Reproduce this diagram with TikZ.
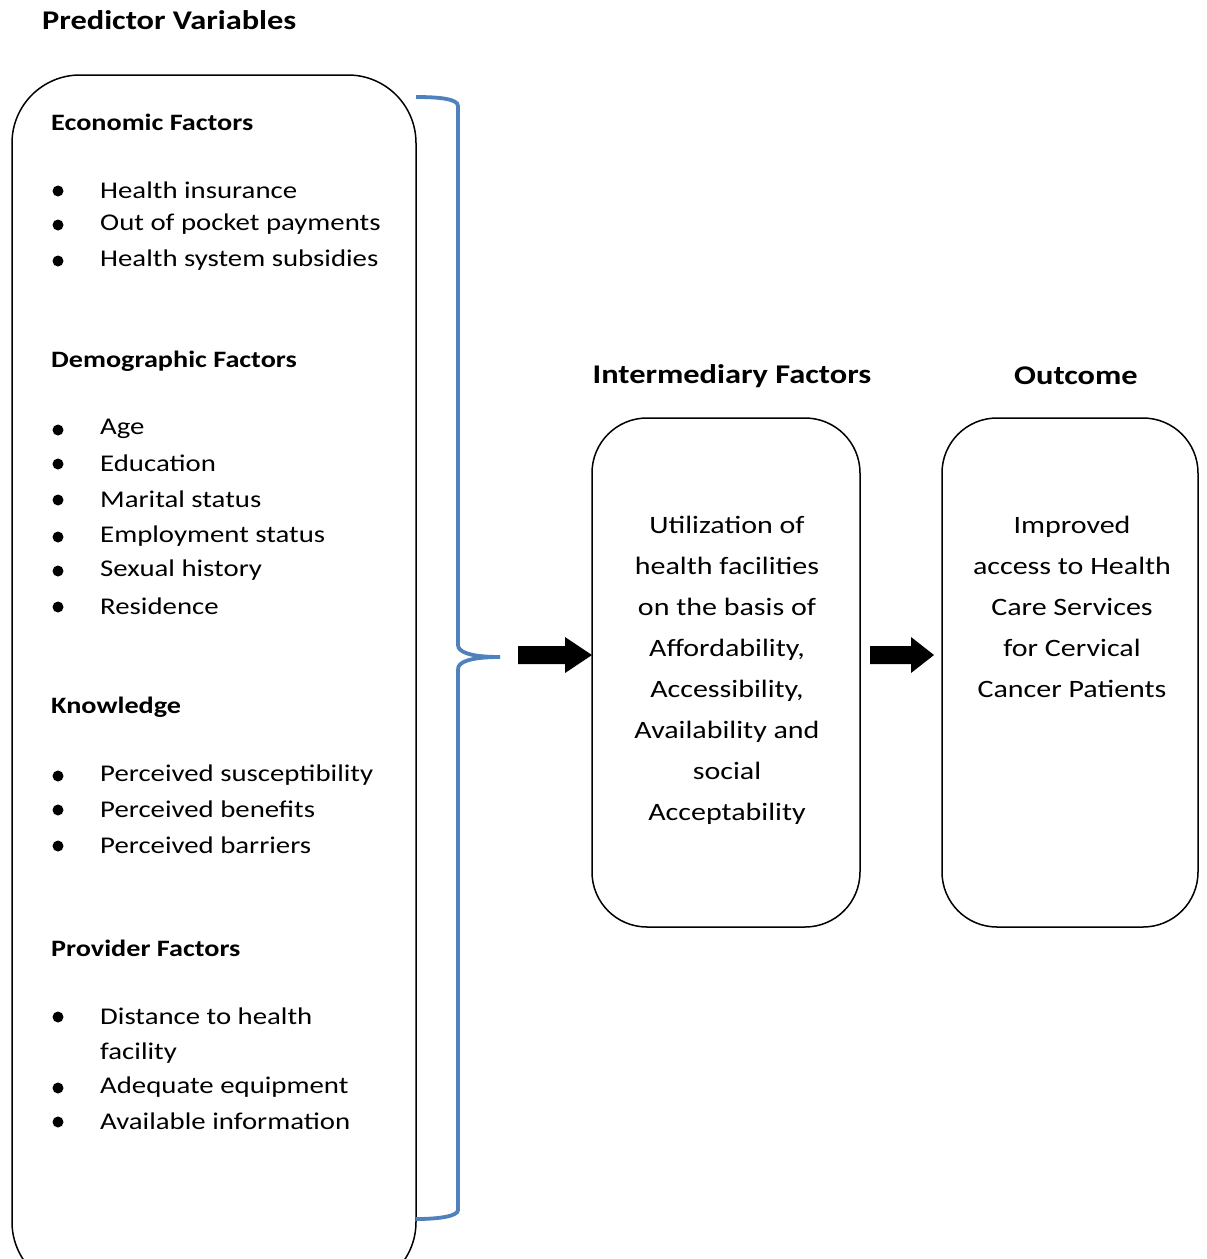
\documentclass[tikz,border=0pt]{standalone}
\usepackage{fontspec}
\setmainfont[FakeStretch=1.2]{Carlito}
\definecolor{braceblue}{RGB}{79,129,189}
\begin{document}
\begin{tikzpicture}[x=1pt,y=-1pt,
  head/.style={font=\fontsize{27}{30}\selectfont\bfseries, anchor=west, inner sep=0pt},
  sub/.style={font=\fontsize{23.5}{27}\selectfont\bfseries, anchor=west, inner sep=0pt},
  item/.style={font=\fontsize{24}{29}\selectfont, anchor=west, inner sep=0pt},
  dot/.style={circle, fill=black, minimum size=11pt, inner sep=0pt},
  box/.style={draw, line width=1.5pt, rounded corners=55pt},
  ctext/.style={font=\fontsize{25}{41}\selectfont, align=center, inner sep=0pt},
  blockarrow/.style={fill=black}]
\path[use as bounding box] (0,0) rectangle (1207,1259);
\fill[white] (0,0) rectangle (1207,1259);

% titles
\node[head] (t1) at (42,20) {Predictor Variables};
\node[head, anchor=center] (t2) at (732,376) {Intermediary Factors};
\node[head, anchor=center] (t3) at (1076,376) {Outcome};

% left box
\begin{scope}
\clip (0,0) rectangle (1207,1259);
\draw[box, rounded corners=68pt] (12,75) rectangle (416,1290);
\end{scope}

% brace
\draw[braceblue, line width=3.8pt] (416,97) .. controls (440,97) and (458,99) .. (458,106)
  -- (458,645) .. controls (458,652) and (470,657) .. (500,657)
  (458,669) .. controls (458,662) and (470,657) .. (500,657)
  (458,669) -- (458,1210) .. controls (458,1216) and (440,1219) .. (416,1219);

% left texts
\node[sub] (h1) at (51,122) {Economic Factors};
\node[sub] (h2) at (51,361) {Demographic Factors};
\node[sub] (h3) at (51,707) {Knowledge};
\node[sub] (h4) at (51,948) {Provider Factors};

\foreach \y/\t [count=\i] in {190/Health insurance, 224/Out of pocket payments, 260/Health system subsidies,
  429/Age, 463/Education, 499/Marital status, 536/Employment status, 570/Sexual history, 606/Residence,
  775/Perceived susceptibility, 809/Perceived benefits, 845/Perceived barriers,
  1016/Distance to health, 1087/Adequate equipment, 1121/Available information}{
  \node[dot] (d\i) at (58,\y+1) {};
  \node[item] (it\i) at (100,\y) {\t};
}
\node[item] (it16) at (100,1053) {facility};

% middle and right boxes
\draw[box] (592,418) rectangle (860,927);
\draw[box] (942,418) rectangle (1198,927);

\node[ctext, anchor=north] (mtext) at (727,516) {Utilization of\\health facilities\\on the basis of\\Affordability,\\Accessibility,\\Availability and\\social\\Acceptability};
\node[ctext, anchor=north] (otext) at (1072,516) {Improved\\access to Health\\Care Services\\for Cervical\\Cancer Patients};

% block arrows
\fill[blockarrow] (518,646) -- (565,646) -- (565,637) -- (592,655) -- (565,673) -- (565,664) -- (518,664) -- cycle;
\fill[blockarrow] (870,646) -- (911,646) -- (911,637) -- (934,655) -- (911,673) -- (911,664) -- (870,664) -- cycle;
\end{tikzpicture}
\end{document}
